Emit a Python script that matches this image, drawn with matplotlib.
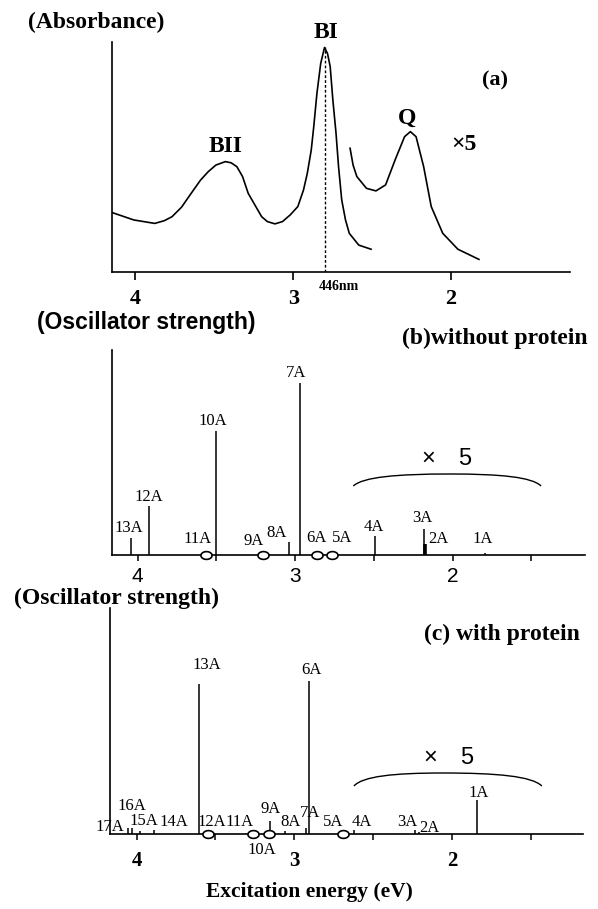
import numpy as np
import matplotlib.pyplot as plt
from matplotlib.path import Path
from matplotlib.patches import PathPatch

SERIF = ["Liberation Serif", "DejaVu Serif"]
SANS = ["Liberation Sans", "DejaVu Sans"]

W, H = 598, 909

# (a) absorption spectrum, arbitrary units
abs_e = [4.147, 4.010, 3.877, 3.816, 3.768, 3.708, 3.647, 3.587, 3.539, 3.490,
         3.430, 3.394, 3.357, 3.321, 3.285, 3.200, 3.164, 3.116, 3.068, 3.019,
         2.971, 2.935, 2.911, 2.886, 2.870, 2.850, 2.826, 2.802, 2.783, 2.766,
         2.749, 2.729, 2.713, 2.693, 2.669, 2.645, 2.585, 2.507]
abs_val = [25.9, 22.7, 21.2, 22.4, 24.1, 28.2, 34.2, 40.0, 43.6, 46.5,
           48.0, 47.5, 45.8, 41.5, 34.2, 24.1, 22.0, 21.0, 22.0, 24.9,
           28.5, 35.7, 42.9, 53.0, 63.2, 77.6, 90.6, 97.5, 94.9, 89.2,
           74.7, 60.3, 45.8, 31.4, 22.7, 16.9, 11.8, 10.0]
# Q band, drawn x5
q_e = [2.640, 2.621, 2.597, 2.536, 2.476, 2.415, 2.355, 2.295, 2.258, 2.222,
       2.174, 2.126, 2.053, 1.957, 1.824]
q_val = [53.8, 46.5, 41.5, 36.4, 35.3, 37.9, 48.7, 58.8, 61.0, 58.8,
         45.8, 28.5, 16.9, 10.0, 5.6]
bi_e = 2.802  # 446 nm
bi_top = 97.5

# (b) without protein: oscillator strengths (display units)
b_lbl = ["13A", "12A", "10A", "8A", "7A", "4A", "3A", "2A", "1A"]
b_e = [4.041, 3.925, 3.502, 3.038, 2.968, 2.495, 2.184, 2.175, 1.794]
b_f = [17, 49, 124, 13, 172, 19, 26, 11, 2]
b_zero_lbl = ["11A", "9A", "6A", "5A"]
b_zero_e = [3.565, 3.203, 2.860, 2.765]

# (c) with protein
c_lbl = ["17A", "16A", "15A", "14A", "13A", "9A", "8A", "7A", "6A",
         "4A", "3A", "2A", "1A"]
c_e = [4.053, 4.032, 3.979, 3.888, 3.605, 3.152, 3.060, 2.923, 2.907,
       2.622, 2.235, 2.210, 1.842]
c_f = [6, 6, 3, 4, 150, 13, 3, 6, 153, 4, 4, 2, 34]
c_zero_lbl = ["12A", "11A", "10A", "5A"]
c_zero_e = [3.548, 3.261, 3.159, 2.694]

tick_major = [4, 3, 2]
tick_minor = [3.5, 2.5, 1.5]

# label offsets in pixels (dx, dy) from stick top / axis
b_off = {"13A": (-2, 10), "12A": (-1, 9), "11A": (-8, 16), "10A": (-3, 10),
         "9A": (-9, 14), "8A": (-12, 9), "7A": (-4, 10), "6A": (-1, 17),
         "5A": (10, 17), "4A": (-1, 9), "3A": (-1, 11), "2A": (13, 5),
         "1A": (-2, 14)}
c_off = {"17A": (-18, 1), "16A": (0, 22), "15A": (4, 10), "14A": (20, 8),
         "13A": (8, 19), "12A": (4, 12), "11A": (-14, 12), "10A": (-7, -16),
         "9A": (0, 12), "8A": (6, 9), "7A": (4, 15), "6A": (2, 11),
         "5A": (-9, 12), "4A": (8, 8), "3A": (-8, 8), "2A": (11, 4),
         "1A": (2, 7)}

fig = plt.figure(figsize=(W / 100, H / 100), dpi=100)


def px_axes(x0, y0, x1, y1):
    # axes from pixel box (top-left origin)
    return fig.add_axes([x0 / W, 1 - y1 / H, (x1 - x0) / W, (y1 - y0) / H])


def ftxt(x, y, s, **kw):
    fig.text(x / W, 1 - y / H, s, **kw)


def style(ax):
    for s in ["top", "right"]:
        ax.spines[s].set_visible(False)
    ax.spines["left"].set_linewidth(1.2)
    ax.spines["bottom"].set_linewidth(1.2)
    ax.set_yticks([])


def brace(ax, e0, em, e1, y0, y1):
    verts = [(e0, y0),
             (e0 - 0.1 * (e0 - em), y0 + 0.75 * (y1 - y0)),
             (e0 - 0.45 * (e0 - em), y1),
             (em, y1),
             (em - 0.55 * (em - e1), y1),
             (e1 + 0.1 * (em - e1), y0 + 0.75 * (y1 - y0)),
             (e1, y0)]
    codes = [Path.MOVETO] + [Path.CURVE4] * 6
    ax.add_patch(PathPatch(Path(verts, codes), fill=False, lw=1.0, ec="k"))


t = np.linspace(0, 2 * np.pi, 40)
ellipse = Path(np.column_stack([np.cos(t), 0.7 * np.sin(t)]))


def sticks(ax, lbl, e, f, zlbl, ze, off, thick=()):
    for l, x, h in zip(lbl, e, f):
        ax.vlines(x, 0, h, color="k", lw=2.6 if l in thick else 1.1)
        ax.annotate(l, (x, h), xytext=off[l], textcoords="offset pixels",
                    ha="center", va="center", fontsize=12, family=SERIF,
                    annotation_clip=False)
    ax.plot(ze, [0] * len(ze), ls="none", marker=ellipse, ms=8, mfc="white",
            mec="k", mew=1.2, clip_on=False, zorder=5)
    for l, x in zip(zlbl, ze):
        ax.annotate(l, (x, 0), xytext=off[l], textcoords="offset pixels",
                    ha="center", va="center", fontsize=12, family=SERIF,
                    annotation_clip=False)


# ---------- (a) ----------
axa = px_axes(112, 41.7, 570, 272.3)
style(axa)
axa.plot(abs_e, abs_val, color="k", lw=1.2, solid_joinstyle="round")
axa.plot(q_e, q_val, color="k", lw=1.2, solid_joinstyle="round")
axa.vlines(bi_e, 0, bi_top, color="k", lw=1.0, linestyles=(0, (2, 1.5)))
axa.set_xlim(4.148, 1.247)
axa.set_ylim(0, 100)
axa.set_xticks(tick_major)
axa.set_xticklabels(["4", "3", "2"], fontsize=16, fontweight="bold", family=SERIF)
axa.tick_params(axis="x", direction="out", length=6, width=1.2, pad=6)

ftxt(28, 22, "(Absorbance)", fontsize=17, fontweight="bold", family=SERIF,
     va="center", ha="left")
ftxt(326, 32, "BI", fontsize=17, fontweight="bold", family=SERIF, ha="center", va="center")
ftxt(226, 146, "BII", fontsize=17, fontweight="bold", family=SERIF, ha="center", va="center")
ftxt(407, 118, "Q", fontsize=17, fontweight="bold", family=SERIF, ha="center", va="center")
ftxt(495, 80, "(a)", fontsize=16, fontweight="bold", family=SERIF, ha="center", va="center")
ftxt(464, 144, "×5", fontsize=17, fontweight="bold", family=SERIF, ha="center", va="center")
ftxt(339, 286, "446nm", fontsize=10, fontweight="bold", family=SERIF, ha="center", va="center")

# ---------- (b) ----------
axb = px_axes(112, 350, 585, 555)
style(axb)
sticks(axb, b_lbl, b_e, b_f, b_zero_lbl, b_zero_e, b_off, thick=("2A",))
axb.set_xlim(4.162, 1.159)
axb.set_ylim(0, 205)
axb.set_xticks(tick_major)
axb.set_xticks(tick_minor, minor=True)
axb.set_xticklabels(["4", "3", "2"], fontsize=15, family=SANS)
axb.tick_params(axis="x", which="both", direction="out", length=4, width=1.1, pad=5)
brace(axb, 2.630, 2.016, 1.438, 69, 81)
axb.text(2.156, 96, "×", fontsize=17, family=SANS, ha="center", va="center")
axb.text(1.921, 96, "5", fontsize=17, family=SANS, ha="center", va="center")

ftxt(37, 323, "(Oscillator strength)", fontsize=16.5, fontweight="bold",
     family=SANS, ha="left", va="center")
ftxt(588, 338, "(b)without protein", fontsize=17, fontweight="bold",
     family=SERIF, ha="right", va="center")

# ---------- (c) ----------
axc = px_axes(110, 608, 583, 834)
style(axc)
sticks(axc, c_lbl, c_e, c_f, c_zero_lbl, c_zero_e, c_off)
axc.set_xlim(4.169, 1.169)
axc.set_ylim(0, 226)
axc.set_xticks(tick_major)
axc.set_xticks(tick_minor, minor=True)
axc.set_xticklabels(["4", "3", "2"], fontsize=15, fontweight="bold", family=SERIF)
axc.tick_params(axis="x", which="both", direction="out", length=4, width=1.1, pad=8)
brace(axc, 2.622, 2.058, 1.430, 48, 61)
axc.text(2.139, 76, "×", fontsize=17, family=SANS, ha="center", va="center")
axc.text(1.907, 76, "5", fontsize=17, family=SANS, ha="center", va="center")

ftxt(219, 598, "(Oscillator strength)", fontsize=17, fontweight="bold",
     family=SERIF, ha="right", va="center")
ftxt(580, 634, "(c) with protein", fontsize=17, fontweight="bold",
     family=SERIF, ha="right", va="center")

ftxt(309, 892, "Excitation energy (eV)", fontsize=15.5, fontweight="bold",
     family=SERIF, ha="center", va="center")

fig.savefig("out.png", dpi=100)
